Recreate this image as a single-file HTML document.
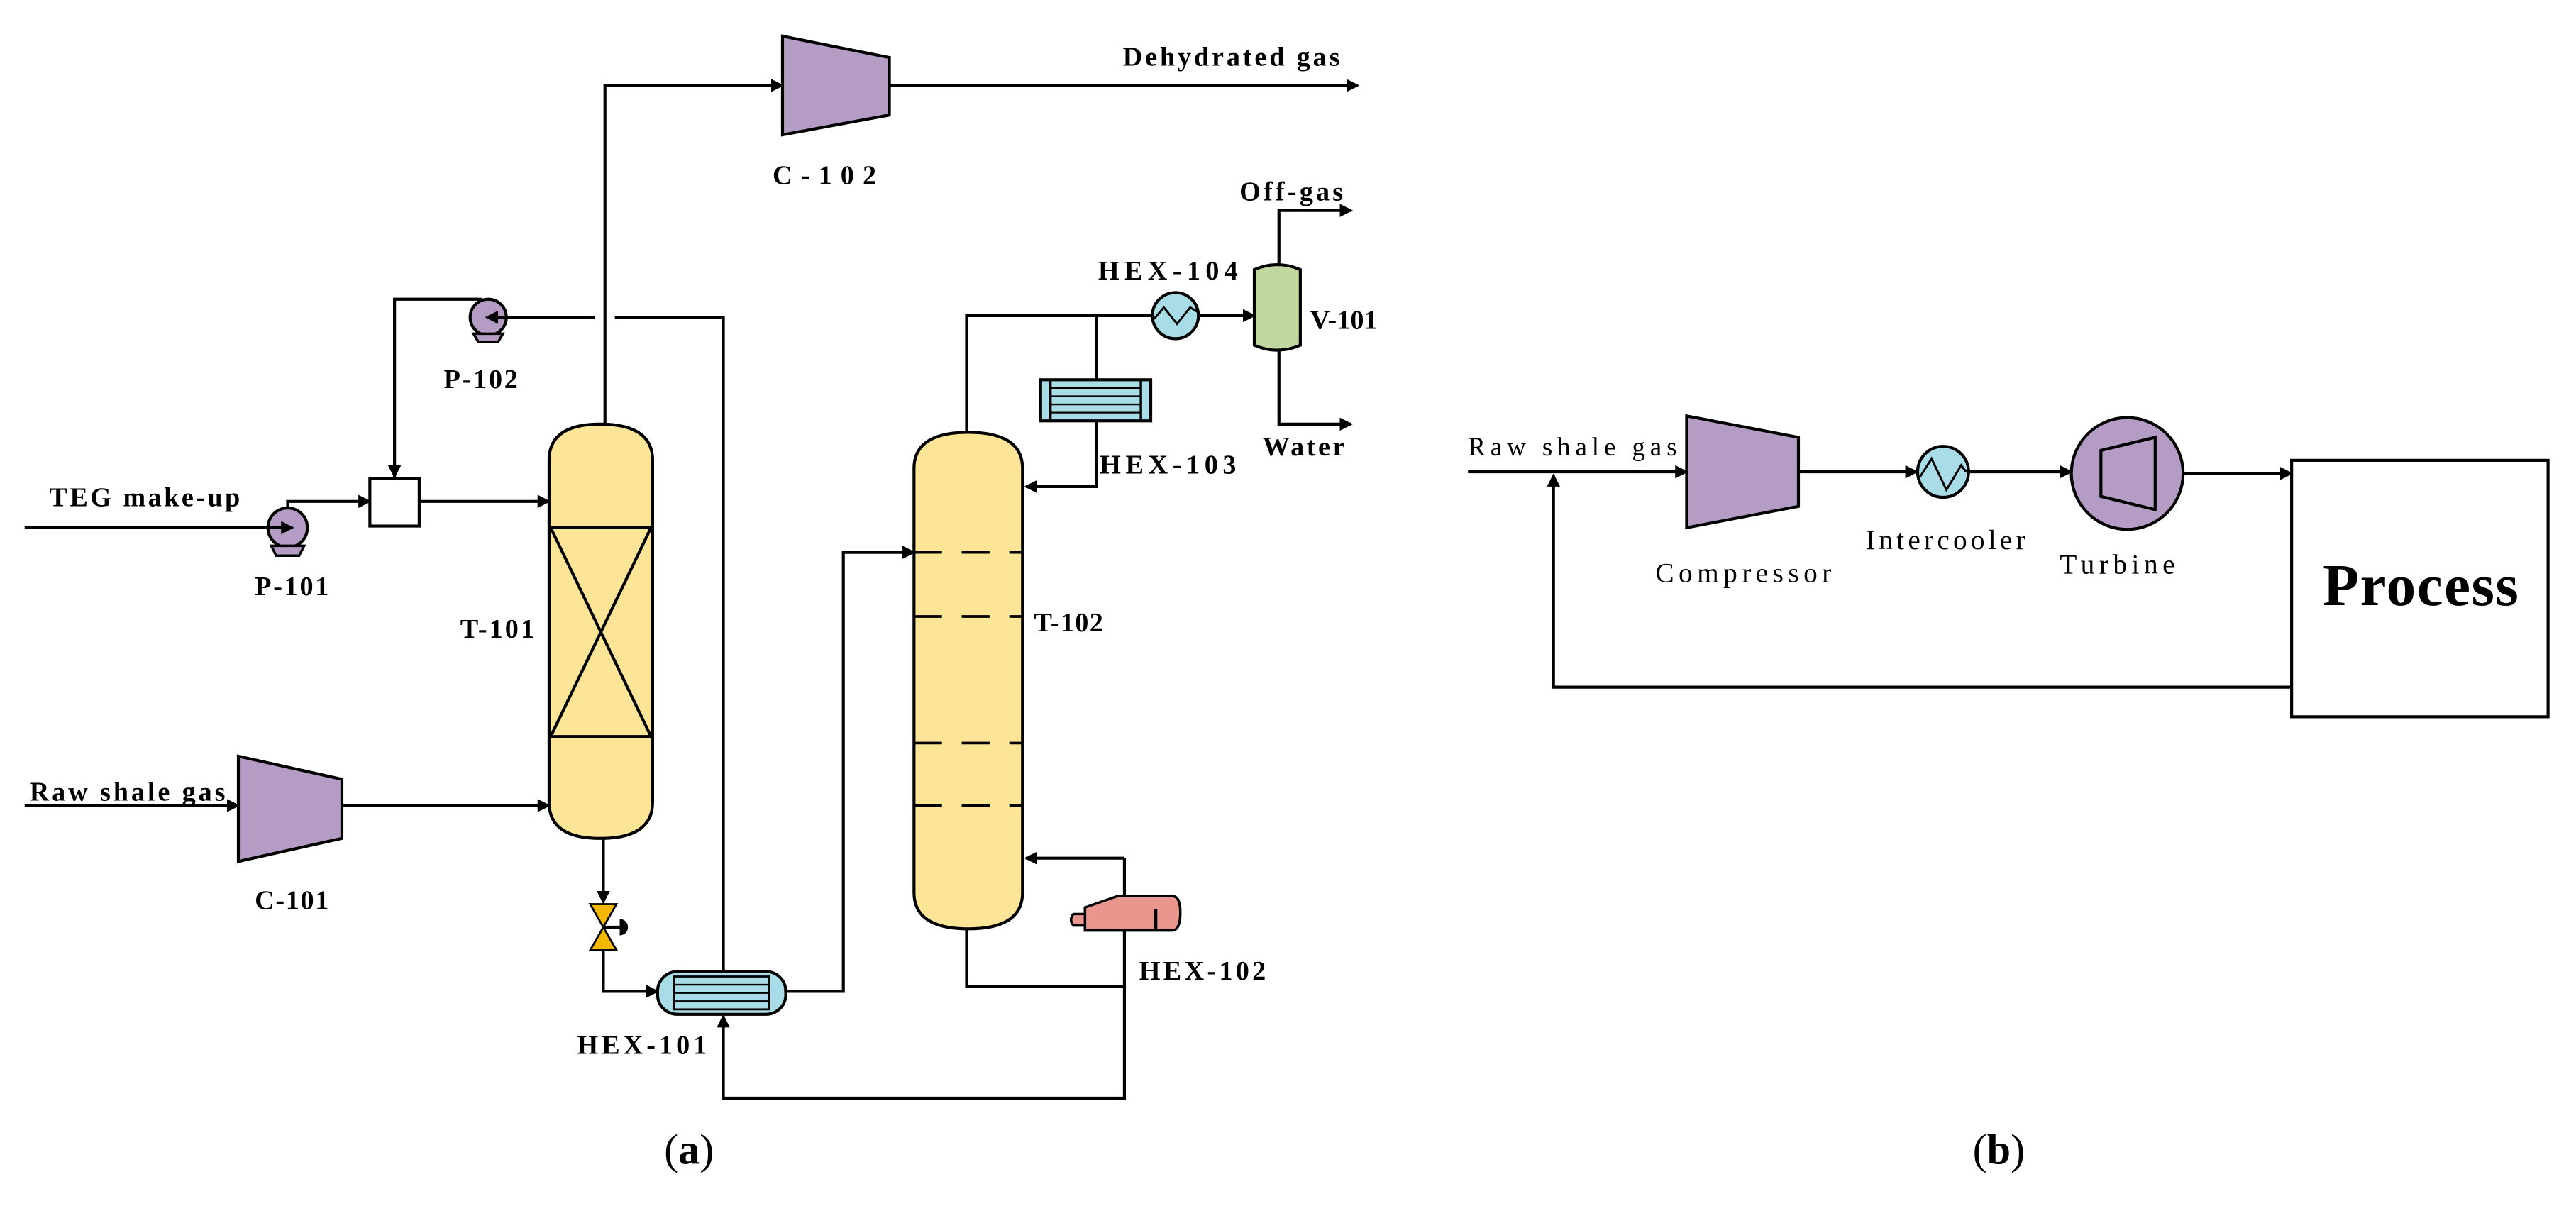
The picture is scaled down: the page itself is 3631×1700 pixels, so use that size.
<!DOCTYPE html>
<html><head><meta charset="utf-8"><style>
html,body{margin:0;padding:0;background:#fff}
svg{display:block}
text{font-family:"Liberation Serif",serif;fill:#000}
.l{font-size:16.5px;font-weight:bold}
.w{stroke:#000;stroke-width:1.8;fill:none}
</style></head><body>
<svg width="3631" height="1700" viewBox="0 0 1567 733.6" preserveAspectRatio="none" xmlns="http://www.w3.org/2000/svg">
<defs>
<marker id="a" markerWidth="8" markerHeight="8" refX="7" refY="4" orient="auto" markerUnits="userSpaceOnUse"><path d="M0,0 L8,4 L0,8 Z" fill="#000"/></marker>
</defs>

<!-- ===== Panel (a) ===== -->
<!-- P-102 loop -->
<circle cx="297" cy="193" r="11" fill="#b49cc4" stroke="#000" stroke-width="1.8"/>
<path d="M288,203 L306,203 L303,208 L291,208 Z" fill="#b49cc4" stroke="#000" stroke-width="1.5"/>
<polyline class="w" points="440,598 440,193 296,193" marker-end="url(#a)"/>
<polyline class="w" points="293,182 240,182 240,290" marker-end="url(#a)"/>
<text class="l" x="270" y="236" textLength="45">P-102</text>
<rect x="362" y="188" width="12" height="10" fill="#fff"/>

<!-- T-101 top to C-102 -->
<polyline class="w" points="368,258 368,52 476,52" marker-end="url(#a)"/>
<polygon points="476,22 541,35 541,70 476,82" fill="#b49cc4" stroke="#000" stroke-width="1.8"/>
<line class="w" x1="541" y1="52" x2="826" y2="52" marker-end="url(#a)"/>
<text class="l" x="683" y="40" textLength="132">Dehydrated gas</text>
<text class="l" x="470" y="112" textLength="63">C-102</text>

<!-- Mixer -->
<rect x="225" y="291" width="30" height="29" fill="#fff" stroke="#000" stroke-width="1.8"/>
<line class="w" x1="255" y1="305" x2="334" y2="305" marker-end="url(#a)"/>

<!-- TEG make-up / P-101 -->
<circle cx="175" cy="321" r="12" fill="#b49cc4" stroke="#000" stroke-width="1.8"/>
<path d="M165,332 L185,332 L182,338 L168,338 Z" fill="#b49cc4" stroke="#000" stroke-width="1.5"/>
<line class="w" x1="15" y1="321" x2="178" y2="321" marker-end="url(#a)"/>
<polyline class="w" points="175,309 175,305 225,305" marker-end="url(#a)"/>
<text class="l" x="30" y="308" textLength="116">TEG make-up</text>
<text class="l" x="155" y="362" textLength="45">P-101</text>

<!-- T-101 -->
<path d="M334,280 Q334,258 365,258 Q397,258 397,280 L397,488 Q397,510 365,510 Q334,510 334,488 Z" fill="#fde598" stroke="#000" stroke-width="1.8"/>
<line class="w" x1="334" y1="321" x2="397" y2="321"/>
<line class="w" x1="334" y1="448" x2="397" y2="448"/>
<line class="w" x1="335" y1="321" x2="396" y2="448"/>
<line class="w" x1="396" y1="321" x2="335" y2="448"/>
<text class="l" x="280" y="388" textLength="45">T-101</text>

<!-- Raw shale gas / C-101 -->
<line class="w" x1="15" y1="490" x2="145" y2="490" marker-end="url(#a)"/>
<polygon points="145,460 208,474 208,510 145,524" fill="#b49cc4" stroke="#000" stroke-width="1.8"/>
<line class="w" x1="208" y1="490" x2="334" y2="490" marker-end="url(#a)"/>
<text class="l" x="18" y="487" textLength="119">Raw shale gas</text>
<text class="l" x="155" y="553" textLength="45">C-101</text>

<!-- valve -->
<line class="w" x1="367" y1="510" x2="367" y2="549" marker-end="url(#a)"/>
<polygon points="359,550 375,550 367,564" fill="#f5b800" stroke="#000" stroke-width="1.2"/>
<polygon points="359,578 375,578 367,564" fill="#f5b800" stroke="#000" stroke-width="1.2"/>
<line class="w" x1="367" y1="564" x2="377" y2="564"/>
<path d="M377,559 A5,5 0 0 1 377,569 Z" fill="#000"/>
<polyline class="w" points="367,578 367,603 400,603" marker-end="url(#a)"/>

<!-- HEX-101 -->
<rect x="400" y="591" width="78" height="26" rx="12" fill="#a8dde8" stroke="#000" stroke-width="1.8"/>
<rect x="410" y="594" width="58" height="20" fill="#a8dde8" stroke="#000" stroke-width="1.2"/>
<line x1="410" y1="599" x2="468" y2="599" stroke="#000" stroke-width="1"/>
<line x1="410" y1="604" x2="468" y2="604" stroke="#000" stroke-width="1"/>
<line x1="410" y1="609" x2="468" y2="609" stroke="#000" stroke-width="1"/>
<text class="l" x="351" y="641" textLength="79">HEX-101</text>
<polyline class="w" points="477,603 513,603 513,336 556,336" marker-end="url(#a)"/>
<polyline class="w" points="684,522 684,668 440,668 440,618" marker-end="url(#a)"/>

<!-- T-102 -->
<path d="M556,285 Q556,263 589,263 Q622,263 622,285 L622,543 Q622,565 589,565 Q556,565 556,543 Z" fill="#fde598" stroke="#000" stroke-width="1.8"/>
<g stroke="#000" stroke-width="1.6" stroke-dasharray="17,12">
<line x1="556" y1="336" x2="622" y2="336"/>
<line x1="556" y1="375" x2="622" y2="375"/>
<line x1="556" y1="452" x2="622" y2="452"/>
<line x1="556" y1="490" x2="622" y2="490"/>
</g>
<text class="l" x="629" y="384" textLength="42">T-102</text>
<polyline class="w" points="684,522 624,522" marker-end="url(#a)"/>
<polyline class="w" points="588,565 588,600 684,600"/>

<!-- HEX-102 reboiler -->
<path d="M653,556 L660,556 L660,552 L680,545 L713,545 Q718,545 718,555 Q718,566 713,566 L660,566 L660,563 L653,563 Q650,559.5 653,556 Z" fill="#e8968e" stroke="#000" stroke-width="1.5"/>
<line x1="660" y1="552" x2="660" y2="566" stroke="#000" stroke-width="1.5"/>
<line x1="703" y1="553" x2="703" y2="566" stroke="#000" stroke-width="2"/>
<text class="l" x="693" y="596" textLength="77">HEX-102</text>

<!-- overhead -->
<polyline class="w" points="588,263 588,192 701,192"/>
<circle cx="715" cy="192" r="14" fill="#a8dde8" stroke="#000" stroke-width="1.8"/>
<polyline points="702,194 708,187 716,197 724,187 729,190" fill="none" stroke="#000" stroke-width="1.3"/>
<line class="w" x1="729" y1="192" x2="763" y2="192" marker-end="url(#a)"/>
<text class="l" x="668" y="170" textLength="85">HEX-104</text>
<polyline class="w" points="667,192 667,296 624,296" marker-end="url(#a)"/>
<rect x="633" y="231" width="67" height="25" fill="#a8dde8" stroke="#000" stroke-width="1.8"/>
<line x1="639" y1="231" x2="639" y2="256" stroke="#000" stroke-width="1.5"/>
<line x1="694" y1="231" x2="694" y2="256" stroke="#000" stroke-width="1.5"/>
<line x1="639" y1="236" x2="694" y2="236" stroke="#000" stroke-width="1"/>
<line x1="639" y1="241" x2="694" y2="241" stroke="#000" stroke-width="1"/>
<line x1="639" y1="246" x2="694" y2="246" stroke="#000" stroke-width="1"/>
<line x1="639" y1="251" x2="694" y2="251" stroke="#000" stroke-width="1"/>
<text class="l" x="669" y="288" textLength="83">HEX-103</text>

<!-- V-101 -->
<path d="M763,164 Q777,158 791,164 L791,210 Q777,216 763,210 Z" fill="#c0d8a0" stroke="#000" stroke-width="1.8"/>
<polyline class="w" points="778,161 778,128 822,128" marker-end="url(#a)"/>
<polyline class="w" points="778,213 778,258 822,258" marker-end="url(#a)"/>
<text class="l" x="754" y="122" textLength="63">Off-gas</text>
<text class="l" x="797" y="200">V-101</text>
<text class="l" x="768" y="277" textLength="50">Water</text>

<text x="404" y="708" style="font-size:26px">(<tspan style="font-weight:bold">a</tspan>)</text>

<!-- ===== Panel (b) ===== -->
<line class="w" x1="893" y1="287" x2="1026" y2="287" marker-end="url(#a)"/>
<text x="893" y="277" style="font-size:16px" textLength="127">Raw shale gas</text>
<polygon points="1026,253 1094,266 1094,308 1026,321" fill="#b49cc4" stroke="#000" stroke-width="1.8"/>
<line class="w" x1="1094" y1="287" x2="1166" y2="287" marker-end="url(#a)"/>
<circle cx="1182" cy="287" r="15.5" fill="#a8dde8" stroke="#000" stroke-width="1.8"/>
<polyline points="1168,290 1175,279 1184,298 1193,283 1196,287" fill="none" stroke="#000" stroke-width="1.3"/>
<line class="w" x1="1198" y1="287" x2="1260" y2="287" marker-end="url(#a)"/>
<circle cx="1294" cy="288" r="34" fill="#b49cc4" stroke="#000" stroke-width="1.8"/>
<polygon points="1278,274 1311,266 1311,310 1278,302" fill="#b49cc4" stroke="#000" stroke-width="1.8"/>
<line class="w" x1="1328" y1="288" x2="1394" y2="288" marker-end="url(#a)"/>
<rect x="1394" y="280" width="156" height="156" fill="#fff" stroke="#000" stroke-width="1.8"/>
<text x="1413" y="368" style="font-size:36px;font-weight:bold" textLength="119">Process</text>
<polyline class="w" points="1394,418 945,418 945,289" marker-end="url(#a)"/>
<text x="1007" y="354" style="font-size:17px" textLength="107">Compressor</text>
<text x="1135" y="334" style="font-size:17px" textLength="97">Intercooler</text>
<text x="1253" y="349" style="font-size:17px" textLength="70">Turbine</text>
<text x="1200" y="708" style="font-size:26px">(<tspan style="font-weight:bold">b</tspan>)</text>
</svg>
</body></html>
